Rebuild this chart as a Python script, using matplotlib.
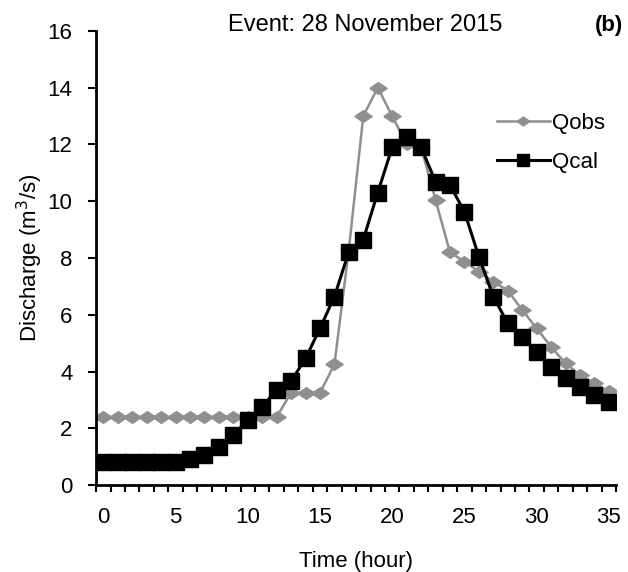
import numpy as np
import matplotlib
matplotlib.use("Agg")
from matplotlib import pyplot as plt

plt.rcParams['font.family'] = ['Liberation Sans', 'DejaVu Sans']

hours = list(range(0, 36))
q_obs = [2.4, 2.4, 2.4, 2.4, 2.4, 2.4, 2.4, 2.4, 2.4, 2.4, 2.4, 2.4, 2.4,
         3.25, 3.25, 3.25, 4.25, 8.3, 13.0, 14.0, 13.0, 12.0, 11.9, 10.05,
         8.2, 7.87, 7.52, 7.17, 6.85, 6.17, 5.52, 4.87, 4.29, 3.87, 3.58, 3.3]
q_cal = [0.82, 0.82, 0.82, 0.82, 0.82, 0.82, 0.92, 1.05, 1.35, 1.76, 2.29,
         2.76, 3.35, 3.66, 4.46, 5.52, 6.64, 8.22, 8.65, 10.3, 11.9, 12.25,
         11.9, 10.69, 10.57, 9.63, 8.05, 6.64, 5.7, 5.23, 4.7, 4.17, 3.76,
         3.46, 3.17, 2.94]

fig = plt.figure(figsize=(6.28, 5.72), dpi=100)
ax = fig.add_axes([0.153, 0.152, 0.828, 0.794])

# flattened diamond like the excel marker
diamond = [(-1, 0), (0, 0.68), (1, 0), (0, -0.68), (-1, 0)]
ax.plot(hours, q_obs, color='#8f8f8f', lw=1.8, marker=diamond, ms=12.5,
        mec='#8f8f8f', mfc='#8f8f8f', label='Qobs', zorder=2)
ax.plot(hours, q_cal, color='black', lw=2.2, marker='s', ms=11,
        label='Qcal', zorder=3)

ax.set_xlim(-0.5, 35.5)
ax.set_ylim(0, 16)
ax.set_yticks(np.arange(0, 17, 2))
ax.set_xticks(np.arange(0, 36, 5))
ax.set_xticks(np.arange(-0.5, 36, 1), minor=True)
ax.tick_params(axis='x', which='major', length=0, pad=15.5, labelsize=16)
ax.tick_params(axis='x', which='minor', length=5, width=1.5, direction='out')
ax.tick_params(axis='y', length=6, width=1.5, labelsize=16, pad=11)

for s in ['top', 'right']:
    ax.spines[s].set_visible(False)
for s in ['left', 'bottom']:
    ax.spines[s].set_linewidth(2)

ax.set_xlabel('Time (hour)', fontsize=16, labelpad=17)
ax.set_ylabel('Discharge (m$^3$/s)', fontsize=16, labelpad=2)

fig.text(0.581, 0.956, 'Event: 28 November 2015', fontsize=17, ha='center', va='center')
fig.text(0.97, 0.956, '(b)', fontsize=16, fontweight='bold', ha='center', va='center')

ax.legend(loc='upper left', bbox_to_anchor=(0.791, 0.802), bbox_transform=fig.transFigure,
          frameon=False, fontsize=16, markerscale=0.75, handlelength=2.4,
          handletextpad=0.1, labelspacing=0.81, borderaxespad=0, borderpad=0)

fig.savefig('out.png', dpi=100)
